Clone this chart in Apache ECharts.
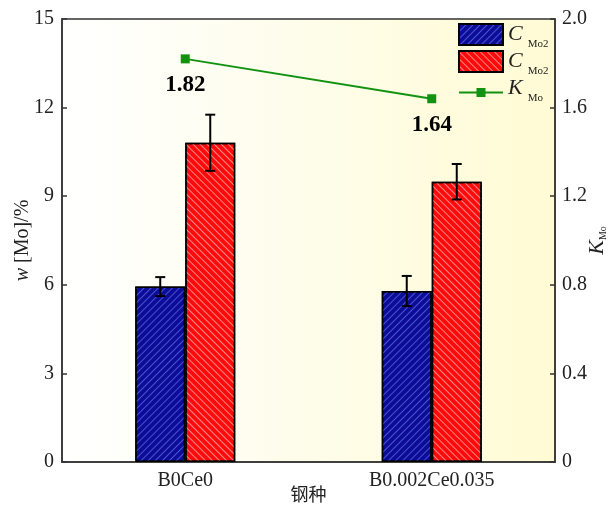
<!DOCTYPE html>
<html>
<head>
<meta charset="utf-8">
<script src="https://cdn.jsdelivr.net/npm/echarts@6/dist/echarts.min.js"></script>
<style>
  html, body { margin: 0; padding: 0; background: #ffffff; }
  #chart { width: 611px; height: 505px; }
</style>
</head>
<body>
<div id="chart"></div>
<script>
// Steel grades on the x axis
const categories = ['B0Ce0', 'B0.002Ce0.035'];

// Mo content (w[Mo]/%) of the two phases, with their error half-widths
const cMoA = [5.94, 5.79];
const cMoAErr = [0.32, 0.51];
const cMoB = [10.81, 9.49];
const cMoBErr = [0.95, 0.60];

// Partition coefficient K_Mo
const kMo = [1.82, 1.64];

// Tick settings
const leftTicks = { min: 0, max: 15, interval: 3 };
const rightTicks = { min: 0, max: 2.0, interval: 0.4 };

const BAR_W = 50;
const SERIF = '"Liberation Serif", "DejaVu Serif", serif';
const INK = '#222';

const chart = echarts.init(document.getElementById('chart'));

function errorSeries(values, errs, offset) {
  return {
    type: 'custom',
    xAxisIndex: 0,
    yAxisIndex: 0,
    z: 10,
    silent: true,
    data: values.map((v, i) => [i, v - errs[i], v + errs[i]]),
    renderItem: function (params, api) {
      const lo = api.coord([api.value(0), api.value(1)]);
      const hi = api.coord([api.value(0), api.value(2)]);
      const x = lo[0] + offset;
      const cap = 5;
      const style = { stroke: '#000', lineWidth: 2 };
      return {
        type: 'group',
        children: [
          { type: 'line', shape: { x1: x, y1: lo[1], x2: x, y2: hi[1] }, style: style },
          { type: 'line', shape: { x1: x - cap, y1: lo[1], x2: x + cap, y2: lo[1] }, style: style },
          { type: 'line', shape: { x1: x - cap, y1: hi[1], x2: x + cap, y2: hi[1] }, style: style }
        ]
      };
    }
  };
}

const legendRich = {
  i: { fontFamily: SERIF, fontStyle: 'italic', fontSize: 22, color: INK, verticalAlign: 'bottom', lineHeight: 21 },
  s: { fontFamily: SERIF, fontSize: 11, color: INK, verticalAlign: 'bottom', lineHeight: 12, padding: [0, 0, -5, 5] }
};

const legendText = {
  'cA': '{i|C}{s|Mo2}',
  'cB': '{i|C}{s|Mo2}',
  'k': '{i|K}{s|Mo}'
};

// legend glyph for the K line: a short stroke with a small square on it
const lineIcon = 'path://M0,0M44,21M0,13.6H44V15.4H0ZM17.5,10H26.5V19H17.5Z';

chart.setOption({
  animation: false,
  backgroundColor: '#ffffff',
  grid: {
    left: 62, right: 56, top: 19, bottom: 43,
    outerBoundsMode: 'none',
    containLabel: false,
    show: true,
    borderColor: '#333',
    borderWidth: 1.5,
    backgroundColor: new echarts.graphic.LinearGradient(0, 0, 1, 0, [
      { offset: 0, color: '#ffffff' },
      { offset: 0.45, color: '#fefdec' },
      { offset: 1, color: '#fffbd4' }
    ])
  },
  legend: {
    orient: 'vertical',
    left: 458,
    top: 23,
    padding: 0,
    itemWidth: 44,
    itemHeight: 21,
    itemGap: 0,
    data: [
      { name: 'cA', icon: 'rect' },
      { name: 'cB', icon: 'rect' },
      { name: 'k', icon: lineIcon }
    ],
    formatter: function (name) { return legendText[name]; },
    textStyle: { rich: legendRich }
  },
  xAxis: {
    type: 'category',
    data: categories,
    name: '钢种',
    nameLocation: 'middle',
    nameGap: 23,
    nameMoveOverlap: false,
    nameTextStyle: { fontFamily: '"Noto Sans CJK SC", sans-serif', fontSize: 18, color: INK, verticalAlign: 'top' },
    axisLine: { lineStyle: { color: '#333', width: 1.5 } },
    axisTick: { show: false },
    axisLabel: { fontFamily: SERIF, fontSize: 20, color: INK, margin: 9 }
  },
  yAxis: [
    {
      type: 'value',
      min: leftTicks.min, max: leftTicks.max, interval: leftTicks.interval,
      name: '{i|w} [Mo]/%',
      nameLocation: 'middle',
      nameRotate: 90,
      nameGap: 29,
      nameMoveOverlap: false,
      nameTextStyle: {
        fontFamily: SERIF, fontSize: 20, color: INK,
        rich: { i: { fontFamily: SERIF, fontSize: 20, fontStyle: 'italic', color: INK } }
      },
      axisLine: { show: true, lineStyle: { color: '#333', width: 1.5 } },
      axisTick: { show: true, inside: true, length: 5, lineStyle: { color: '#333', width: 1.5 } },
      axisLabel: { fontFamily: SERIF, fontSize: 20, color: INK, margin: 8 },
      splitLine: { show: false }
    },
    {
      type: 'value',
      position: 'right',
      min: rightTicks.min, max: rightTicks.max, interval: rightTicks.interval,
      name: '{i|K}{s|Mo}',
      nameLocation: 'middle',
      nameRotate: 90,
      nameGap: 31,
      nameMoveOverlap: false,
      nameTextStyle: {
        fontFamily: SERIF, fontSize: 22, color: INK,
        rich: {
          i: { fontFamily: SERIF, fontSize: 22, fontStyle: 'italic', color: INK },
          s: { fontFamily: SERIF, fontSize: 10, color: INK, verticalAlign: 'bottom' }
        }
      },
      axisLine: { show: true, lineStyle: { color: '#333', width: 1.5 } },
      axisTick: { show: true, inside: true, length: 5, lineStyle: { color: '#333', width: 1.5 } },
      axisLabel: {
        fontFamily: SERIF, fontSize: 20, color: INK, margin: 7,
        formatter: function (v) { return v === 0 ? '0' : v.toFixed(1); }
      },
      splitLine: { show: false }
    }
  ],
  series: [
    {
      name: 'cA',
      type: 'bar',
      data: cMoA,
      barWidth: BAR_W,
      barGap: '0%',
      itemStyle: {
        color: '#0c0c96',
        borderColor: '#000',
        borderWidth: 1.5,
        decal: {
          symbol: 'rect',
          color: 'rgba(110,130,255,0.6)',
          dashArrayX: [1, 0],
          dashArrayY: [1, 4],
          rotation: -Math.PI / 4
        }
      }
    },
    {
      name: 'cB',
      type: 'bar',
      data: cMoB,
      barWidth: BAR_W,
      barGap: '0%',
      itemStyle: {
        color: '#ff0a0a',
        borderColor: '#000',
        borderWidth: 1.5,
        decal: {
          symbol: 'rect',
          color: 'rgba(255,190,190,0.7)',
          dashArrayX: [1, 0],
          dashArrayY: [1, 4],
          rotation: Math.PI / 4
        }
      }
    },
    errorSeries(cMoA, cMoAErr, -BAR_W / 2),
    errorSeries(cMoB, cMoBErr, BAR_W / 2),
    {
      name: 'k',
      type: 'line',
      yAxisIndex: 1,
      data: kMo,
      symbol: 'rect',
      symbolSize: 9,
      z: 12,
      lineStyle: { color: '#119211', width: 2 },
      itemStyle: { color: '#119211' },
      label: {
        show: true,
        position: 'bottom',
        distance: 10,
        fontFamily: SERIF,
        fontSize: 23,
        fontWeight: 'bold',
        color: '#000',
        formatter: function (p) { return p.value.toFixed(2); }
      }
    }
  ]
});
</script>
</body>
</html>
